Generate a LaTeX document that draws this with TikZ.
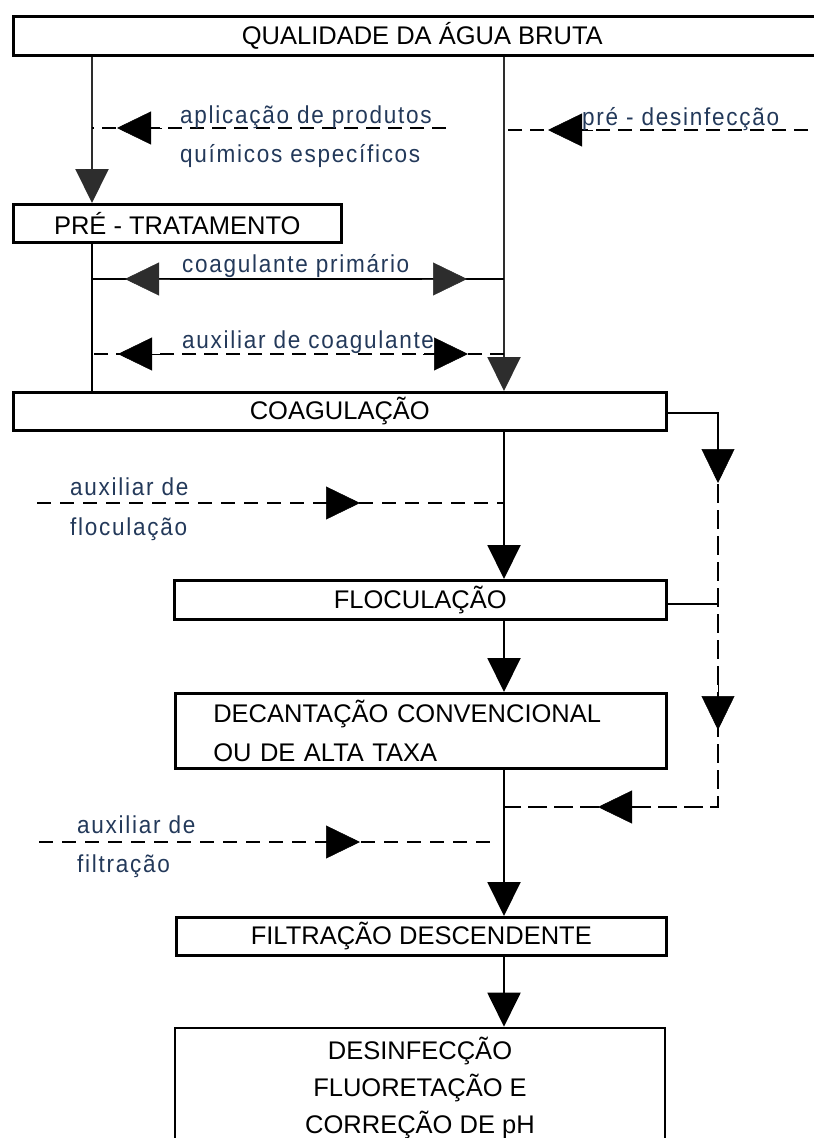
\documentclass[tikz,border=0pt]{standalone}
\usepackage{fontspec}
\setmainfont{Liberation Sans}
\newfontfamily\notefont{Liberation Sans}[FakeStretch=0.92,LetterSpace=7]
\usetikzlibrary{arrows.meta}
\definecolor{noteblue}{RGB}{35,57,90}
\definecolor{headgray}{RGB}{45,45,45}

\begin{document}
\begin{tikzpicture}[x=1pt,y=-1pt,
  box/.style={draw=black, line width=2.6pt, fill=white, inner sep=0pt,
              font=\fontsize{25.5}{39}\selectfont},
  flow/.style={line width=2pt},
  dosing/.style={line width=2.8pt, dash pattern=on 14pt off 8pt},
  dosethin/.style={line width=2pt, dash pattern=on 14pt off 9pt},
  bypass/.style={line width=2.4pt, dash pattern=on 19pt off 7pt},
  tip/.style={-{Triangle[length=34pt,width=33pt]}},
  head/.style={line width=0.5pt, tip},
  note/.style={text=noteblue, inner sep=0pt,
               font=\notefont\fontsize{24.5}{39}\selectfont}
]
\useasboundingbox (0,0) rectangle (814,1138);
\fill[white] (0,0) rectangle (814,1138);
\clip (0,0) rectangle (814,1138);

% columns of the flow lines
\coordinate (cL) at (92,0);
\coordinate (cM) at (504,0);
\coordinate (cR) at (718,0);

% process boxes
\node[box, minimum width=818pt, minimum height=39pt, anchor=north west] (agua) at (12,15) {QUALIDADE DA ÁGUA BRUTA};
\node[box, minimum width=328pt, minimum height=38pt, anchor=north west] (pre) at (12,203) {PRÉ - TRATAMENTO};
\node[box, minimum width=653pt, minimum height=38pt, anchor=north west] (coag) at (12,391) {COAGULAÇÃO};
\node[box, minimum width=492pt, minimum height=39pt, anchor=north west] (floc) at (173,579) {FLOCULAÇÃO};
\node[box, minimum width=491pt, minimum height=75pt, anchor=north west, text width=415pt, align=left] (dec) at (174,692) {DECANTAÇÃO CONVENCIONAL\\OU DE ALTA TAXA};
\node[box, minimum width=490pt, minimum height=38pt, anchor=north west] (filt) at (175,916) {FILTRAÇÃO DESCENDENTE};
\node[box, minimum width=490pt, minimum height=120pt, align=center, font=\fontsize{25.5}{37}\selectfont] (desinf) at (420,1088) {DESINFECÇÃO\\FLUORETAÇÃO E\\CORREÇÃO DE pH};

% main flow
\draw[flow, tip, headgray] (agua.south -| cL) -- (pre.north -| cL);
\draw[flow] (pre.south -| cL) -- (coag.north -| cL);
\draw[flow, tip, headgray] (agua.south -| cM) -- (coag.north -| cM);
\draw[flow, tip] (coag.south -| cM) -- (floc.north -| cM);
\draw[flow, tip] (floc.south -| cM) -- (dec.north -| cM);
\draw[flow, tip] (dec.south -| cM) -- (filt.north -| cM);
\draw[flow, tip] (filt.south -| cM) -- (desinf.north -| cM);

% chemical dosing lines
\coordinate (aplFrom) at (446,128);
\coordinate (aplTo) at (cL |- aplFrom);
\draw[dosing] (aplFrom) -- (aplTo);
\coordinate (aplHead) at (117,128);
\draw[head] ([xshift=45pt]aplHead) -- (aplHead);
\node[note, anchor=base west] (aplA) at (180,123) {aplicação de produtos};
\node[note, anchor=base west] (aplB) at (180,162) {químicos específicos};

\coordinate (preFrom) at (830,130);
\coordinate (preTo) at (cM |- preFrom);
\draw[dosing] (preFrom) -- (preTo);
\coordinate (preHead) at (548,130);
\draw[head] ([xshift=45pt]preHead) -- (preHead);
\node[note, anchor=base west] (preA) at (582,125) {pré - desinfecção};

\coordinate (cpL) at (cL |- 0,279);
\coordinate (cpR) at (cM |- 0,279);
\draw[flow] (cpL) -- (cpR);
\coordinate (cpHeadL) at (125,279);
\coordinate (cpHeadR) at (467,279);
\draw[head, headgray] ([xshift=45pt]cpHeadL) -- (cpHeadL);
\draw[head, headgray] ([xshift=-45pt]cpHeadR) -- (cpHeadR);
\node[note, anchor=base west] (cpA) at (182,272) {coagulante primário};

\coordinate (acL) at (cL |- 0,354);
\coordinate (acR) at (cM |- 0,354);
\draw[dosing] (acR) -- (acL);
\coordinate (acHeadL) at (118,354);
\coordinate (acHeadR) at (468,354);
\draw[head] ([xshift=45pt]acHeadL) -- (acHeadL);
\draw[head] ([xshift=-45pt]acHeadR) -- (acHeadR);
\node[note, anchor=base west] (acA) at (182,348) {auxiliar de coagulante};

\coordinate (afFrom) at (37,503);
\coordinate (afTo) at (cM |- afFrom);
\draw[dosethin] (afFrom) -- (afTo);
\coordinate (afHead) at (360,503);
\draw[head] ([xshift=-45pt]afHead) -- (afHead);
\node[note, anchor=base west] (afA) at (70,495) {auxiliar de};
\node[note, anchor=base west] (afB) at (70,535) {floculação};

\coordinate (ftFrom) at (39,842);
\coordinate (ftTo) at (495,842);
\draw[dosethin] (ftFrom) -- (ftTo);
\coordinate (ftHead) at (360,842);
\draw[head] ([xshift=-45pt]ftHead) -- (ftHead);
\node[note, anchor=base west] (ftA) at (77,833) {auxiliar de};
\node[note, anchor=base west] (ftB) at (77,872) {filtração};

% bypass of the settling stage
\coordinate (bpA) at (cR |- 0,413);
\coordinate (bpB) at (cR |- 0,432);
\coordinate (bpC) at (cR |- 0,807);
\coordinate (bpD) at (cM |- bpC);
\coordinate (bpF) at (cR |- 0,604);
\draw[flow] (coag.east |- bpA) -- (bpA) -- (bpB);
\draw[flow] (floc.east |- bpF) -- (bpF);
\draw[bypass] (bpB) -- (bpC) -- (bpD);
\coordinate (bpHead1) at (718,483);
\coordinate (bpHead2) at (718,730);
\coordinate (bpHead3) at (598,807);
\draw[head] ([yshift=45pt]bpHead1) -- (bpHead1);
\draw[head] ([yshift=45pt]bpHead2) -- (bpHead2);
\draw[head] ([xshift=45pt]bpHead3) -- (bpHead3);
\end{tikzpicture}
\end{document}
